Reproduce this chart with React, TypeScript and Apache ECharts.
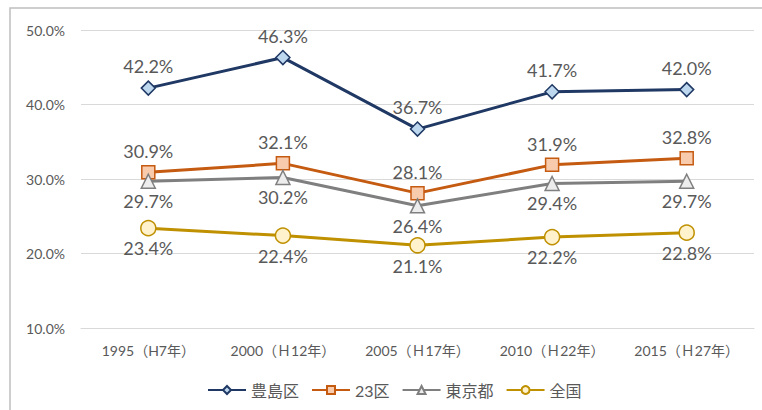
import React, { useEffect, useRef } from "react";
import * as echarts from "echarts";

const categories = ["1995（H7年）", "2000（Ｈ12年）", "2005（Ｈ17年）", "2010（Ｈ22年）", "2015（Ｈ27年）"];
const toshima = [42.2, 46.3, 36.7, 41.7, 42.0];
const ku23 = [30.9, 32.1, 28.1, 31.9, 32.8];
const tokyo = [29.7, 30.2, 26.4, 29.4, 29.7];
const zenkoku = [23.4, 22.4, 21.1, 22.2, 22.8];
const yTicks = { min: 10, max: 50, interval: 10 };

const FONT = "Lato, 'Noto Sans CJK JP', sans-serif";
const TXT = "#595959";

export default function App() {
  const ref = useRef<HTMLDivElement>(null);
  useEffect(() => {
    const chart = echarts.init(ref.current!, null, { renderer: "svg" });
    const mk = (name: string, data: number[], color: string, fill: string, symbol: string, size: number, pos: string, dist: number) => ({
      name,
      type: "line",
      data,
      symbol,
      symbolSize: size,
      lineStyle: { color, width: 3 },
      itemStyle: { color: fill, borderColor: color, borderWidth: 1.5 },
      label: {
        show: true,
        position: pos,
        distance: dist,
        formatter: (p: any) => p.value.toFixed(1) + "%",
        color: TXT,
        fontSize: 18,
        fontFamily: FONT,
      },
    });
    chart.setOption({
      animation: false,
      textStyle: { fontFamily: FONT },
      graphic: [
        {
          type: "rect",
          shape: { x: 10, y: 8, width: 770, height: 420 },
          style: { fill: "none", stroke: "#BFBFBF", lineWidth: 1.5 },
          silent: true,
        },
      ],
      grid: { left: 81, right: 8, top: 30, bottom: 82, containLabel: false },
      legend: {
        top: 377,
        left: 202,
        itemWidth: 38,
        itemHeight: 10,
        itemGap: 12,
        textStyle: { color: TXT, fontSize: 16, fontFamily: FONT },
        data: ["豊島区", "23区", "東京都", "全国"],
      },
      xAxis: {
        type: "category",
        data: categories,
        boundaryGap: true,
        axisLine: { lineStyle: { color: "#D9D9D9", width: 1 } },
        axisTick: { show: false },
        axisLabel: { color: TXT, fontSize: 14, margin: 15, interval: 0, fontFamily: FONT },
      },
      yAxis: {
        type: "value",
        min: yTicks.min,
        max: yTicks.max,
        interval: yTicks.interval,
        axisLine: { show: false },
        axisTick: { show: false },
        splitLine: { lineStyle: { color: "#D9D9D9", width: 1 } },
        axisLabel: {
          color: TXT,
          fontSize: 14,
          margin: 16,
          fontFamily: FONT,
          formatter: (v: number) => v.toFixed(1) + "%",
        },
      },
      series: [
        mk("豊島区", toshima, "#1F3864", "#BDD7EE", "diamond", 14, "top", 5),
        mk("23区", ku23, "#C55A11", "#F8CBAD", "rect", 13, "top", 5),
        mk("東京都", tokyo, "#7F7F7F", "#EDEDED", "triangle", 14, "bottom", 3),
        mk("全国", zenkoku, "#BF9000", "#FFF2CC", "circle", 15, "bottom", 3),
      ],
    });
    return () => chart.dispose();
  }, []);
  return (
    <div
      ref={ref}
      style={{ position: "fixed", left: 0, top: 0, width: 762, height: 410, background: "#fff" }}
    />
  );
}
